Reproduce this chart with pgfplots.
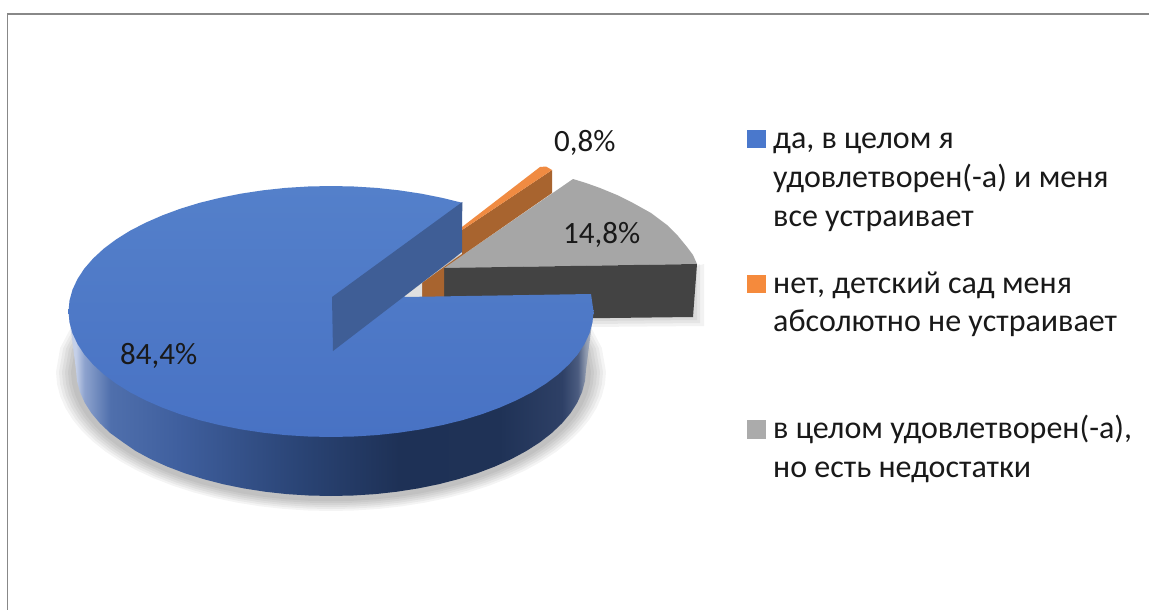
\documentclass[border=0pt]{standalone}
\usepackage{fontspec}
\setmainfont{Carlito}
\usepackage{pgfplots}
\usepackage{pgfplotstable}
\pgfplotsset{compat=1.18}
\definecolor{blueTop}{HTML}{5480CA}
\definecolor{blueBot}{HTML}{4872C4}
\definecolor{blueWall}{HTML}{3F5E96}
\definecolor{greyTop}{HTML}{A6A6A6}
\definecolor{greyDark}{HTML}{434343}
\definecolor{orangeTop}{HTML}{F08B42}
\definecolor{orangeWall}{HTML}{A8642F}
\definecolor{legBlue}{HTML}{4A78CC}
\definecolor{legOrange}{HTML}{F58A3C}
\definecolor{legGrey}{HTML}{ABABAB}
\definecolor{frameGrey}{HTML}{888888}
\definecolor{s0}{HTML}{C5D0E8}
\definecolor{s1}{HTML}{8EA3CE}
\definecolor{s2}{HTML}{4F6FAC}
\definecolor{s3}{HTML}{3F5F9E}
\definecolor{s4}{HTML}{2A4475}
\definecolor{s5}{HTML}{1E3156}
\definecolor{s6}{HTML}{1F3256}
\definecolor{s7}{HTML}{2E4066}
\definecolor{s8}{HTML}{4B5C80}
\definecolor{s9}{HTML}{8A95AB}
\definecolor{s10}{HTML}{C0C6D0}
% path spans 25bp..75bp of the shading
\pgfdeclarehorizontalshading{sideshade}{100bp}{
  color(0bp)=(s0); color(25.7bp)=(s0); color(26.5bp)=(s1); color(29bp)=(s2);
  color(35.5bp)=(s3); color(47bp)=(s4); color(56.5bp)=(s5); color(66bp)=(s6);
  color(72bp)=(s7); color(73.5bp)=(s8); color(74.2bp)=(s9); color(75bp)=(s10); color(100bp)=(s10)}
\pgfplotstableread{
c s
1 0
0.9962 0.0872
0.9848 0.1736
0.9659 0.2588
0.9397 0.3420
0.9063 0.4226
0.8660 0.5
0.8192 0.5736
0.7660 0.6428
0.7071 0.7071
0.6428 0.7660
0.5736 0.8192
0.5 0.8660
0.4226 0.9063
0.3420 0.9397
0.2588 0.9659
0.1736 0.9848
0.0872 0.9962
0 1
-0.0872 0.9962
-0.1736 0.9848
-0.2588 0.9659
-0.3420 0.9397
-0.4226 0.9063
-0.5 0.8660
-0.5736 0.8192
-0.6428 0.7660
-0.7071 0.7071
-0.7660 0.6428
-0.8192 0.5736
-0.8660 0.5
-0.9063 0.4226
-0.9397 0.3420
-0.9659 0.2588
-0.9848 0.1736
-0.9962 0.0872
-1 0
-0.9848 -0.1736
-0.9397 -0.3420
-0.8660 -0.5
-0.7660 -0.6428
-0.6428 -0.7660
-0.5 -0.8660
-0.3420 -0.9397
-0.1736 -0.9848
0 -1
0.1736 -0.9848
0.3420 -0.9397
0.5 -0.8660
0.6428 -0.7660
0.7660 -0.6428
0.8660 -0.5
0.9397 -0.3420
0.9848 -0.1736
}\unitcircle
\newcommand{\txt}[3]{\node[anchor=base west,inner sep=0pt,text=black!90] at (axis cs:#1,#2) {\fontsize{32}{32}\selectfont #3};}
\newcommand{\val}[3]{\node[anchor=base west,inner sep=0pt,text=black!90] at (axis cs:#1,#2) {\fontsize{31}{31}\selectfont #3};}
\begin{document}
\begin{tikzpicture}
\begin{axis}[
  width=1149pt,height=610pt,scale only axis,
  xmin=0,xmax=1149,ymin=0,ymax=610,y dir=reverse,
  axis lines=none,ticks=none,clip=true]
% background and frame
\addplot[draw=none,fill=white] coordinates {(0,0)(1149,0)(1149,610)(0,610)};
\addplot[draw=none,fill=frameGrey] coordinates {(7,13.3)(1149,13.3)(1149,15.3)(7,15.3)};
\addplot[draw=none,fill=frameGrey] coordinates {(7,13.3)(8,13.3)(8,610)(7,610)};
% soft shadows of the pie
\pgfplotsinvokeforeach{20,17,14,11,8,5}{
  \addplot[draw=none,fill=black,fill opacity=0.045] table[x expr=331+(255+#1)*\thisrow{c},y expr=372+(126+0.65*#1)*\thisrow{s}] {\unitcircle};
}
% soft shadow of the dark slice
\addplot[draw=none,fill=black,fill opacity=0.05] coordinates {(590,295)(704,264)(704,326)(590,327)};
\addplot[draw=none,fill=black,fill opacity=0.05] coordinates {(590,295)(700,264)(700,323)(590,324)};
\addplot[draw=none,fill=black,fill opacity=0.05] coordinates {(590,295)(697,264)(697,320)(590,321)};
% slice 14,8%
\addplot[draw=none,fill=greyTop] coordinates {(444,268)(552,193.5)(573,179)(586,183)(600,188)(617,195)(633,203)(651,213)(667,225)(678,236)(687,247)(693,255)(697,264)};
\addplot[draw=none,fill=greyDark] coordinates {(444,268)(697,264)(693,317)(444,320)};
% slice 0,8%
\addplot[draw=none,fill=orangeWall] coordinates {(552,170)(552,193)(444,268)(444,297)(422,297)(422,283)(462,254)(462,230)};
\addplot[draw=none,fill=orangeTop] coordinates {(540,167)(546,166.5)(552,170)(462,230)(462,227)};
\addplot[draw=none,fill=black!12] coordinates {(404,297)(422,283)(422,297)};
% slice 84,4%: side
\addplot[draw=none,shading=sideshade] coordinates {
(593.5,311.5)(586,370)(585,381)(582.1,391.9)(577.3,402.6)(570.6,413.1)(562.1,423.2)(551.8,433)(539.9,442.3)(526.3,451)(511.3,459.1)(494.9,466.5)(477.3,473.2)(458.5,479.1)(438.8,484.2)(418.2,488.4)(397,491.7)(375.3,494.1)(353.2,495.5)(331,496)
(308.8,495.5)(286.7,494.1)(265,491.7)(243.8,488.4)(223.2,484.2)(203.5,479.1)(184.7,473.2)(167.1,466.5)(150.7,459.1)(135.7,451)(123.1,442.3)(110.2,433)(99.9,423.2)(91.4,413.1)(84.7,402.6)(79.9,391.9)(77,381)(76,370)(68.5,311.5)};
% slice 84,4%: top face
\addplot[draw=none,top color=blueTop,bottom color=blueBot] coordinates {
(593.5,311.5)(592.5,322.4)(589.5,333.3)(584.5,344)(577.7,354.4)(568.9,364.5)(558.3,374.3)(546,383.5)(532.1,392.2)(516.6,400.2)(499.7,407.6)(481.6,414.3)(462.3,420.2)(441.9,425.2)(420.8,429.4)(398.9,432.7)(376.6,435.1)(353.9,436.5)(331,437)
(308.1,436.5)(285.4,435.1)(263.1,432.7)(241.2,429.4)(220.1,425.2)(199.7,420.2)(180.4,414.3)(162.3,407.6)(145.4,400.2)(129.9,392.2)(116,383.5)(103.7,374.3)(93.1,364.5)(84.3,354.4)(77.5,344)(72.5,333.3)(69.5,322.4)(68.5,311.5)
(69.5,300.6)(72.5,289.7)(77.5,279)(84.3,268.6)(93.1,258.5)(103.7,248.7)(116,239.5)(129.9,230.8)(145.4,222.8)(162.3,215.4)(180.4,208.7)(199.7,202.8)(220.1,197.8)(241.2,193.6)(263.1,190.3)(285.4,187.9)(308.1,186.5)(331,186)
(353.9,186.5)(376.6,187.9)(398.9,190.3)(420.8,193.6)(441.9,197.8)(462.3,202.8)(404,297)(591,294)};
% slice 84,4%: cut wall
\addplot[draw=none,fill=blueWall] coordinates {(462.3,202)(462,252)(333,351)(332,297)};
% legend swatches
\addplot[draw=none,fill=legBlue] coordinates {(747,130)(766,130)(766,148)(747,148)};
\addplot[draw=none,fill=legOrange] coordinates {(747,275)(766,275)(766,293)(747,293)};
\addplot[draw=none,fill=legGrey] coordinates {(747,420)(766,420)(766,439)(747,439)};
% data labels
\val{120}{364}{84,4\%}
\val{563}{243}{14,8\%}
\val{554}{151}{0,8\%}
% legend text
\txt{773}{148}{да, в целом я}
\txt{773}{187}{удовлетворен(-а) и меня}
\txt{773}{226}{все устраивает}
\txt{773}{293}{нет, детский сад меня}
\txt{773}{331}{абсолютно не устраивает}
\txt{773}{438}{в целом удовлетворен(-а),}
\txt{773}{477}{но есть недостатки}
\end{axis}
\end{tikzpicture}
\end{document}
